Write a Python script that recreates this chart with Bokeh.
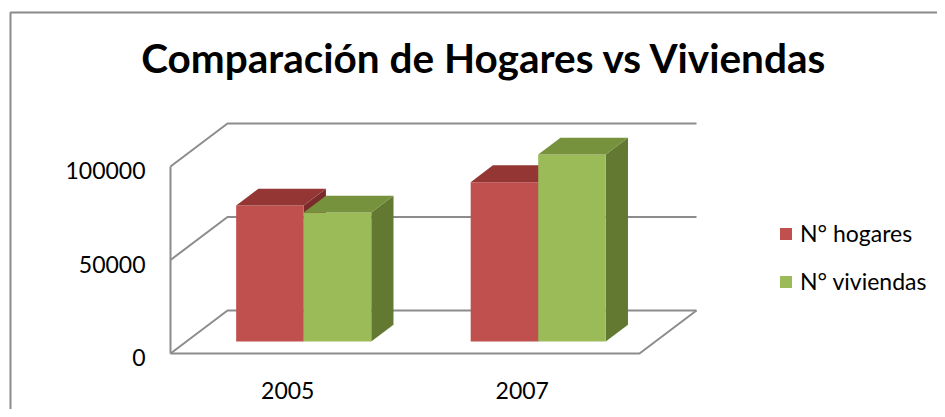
from bokeh.plotting import figure
from bokeh.models import (LinearAxis, FixedTicker, BasicTickFormatter, Legend,
                          LegendItem, Label, Range1d)
from bokeh.embed import file_html
from bokeh.resources import INLINE

# ---------------- data ----------------
categories = ["2005", "2007"]
series_names = ["N° hogares", "N° viviendas"]
hogares = [72700, 85200]
viviendas = [69000, 100000]
y_ticks = [0, 50000, 100000]

# ---------------- layout constants (pixels) ----------------
W, H = 937, 409
ORIGIN_X = 170          # canvas x of front-left corner (data x = 0)
ORIGIN_Y = 353          # canvas y (from top) of value 0 on front edge
PX_PER_CAT = 234.5
PX_PER_VAL = 187 / 100000
DEPTH_PX = (57, 43)     # 3D depth offset of walls
BAR_FRONT = 0.28        # bar front position as fraction of depth
BAR_DEPTH = 0.39        # bar depth as fraction of depth
BAR_W = 0.288           # bar width in category units
LABEL_SHIFT_PX = 4      # y tick labels sit slightly below their gridline

def px_x(cx):
    return (cx - ORIGIN_X) / PX_PER_CAT

def px_y(cy):
    return (ORIGIN_Y - cy) / PX_PER_VAL

dxd = DEPTH_PX[0] / PX_PER_CAT
dyd = DEPTH_PX[1] / PX_PER_VAL

p = figure(width=W, height=H, output_backend="svg", toolbar_location=None,
           x_range=Range1d(px_x(0), px_x(W)), y_range=Range1d(px_y(H), px_y(0)),
           x_axis_location=None, y_axis_location=None, min_border=0)
shift = LABEL_SHIFT_PX / PX_PER_VAL
p.extra_y_ranges = {"labels": Range1d(px_y(H) + shift, px_y(0) + shift)}
p.outline_line_color = None
p.xgrid.visible = False
p.ygrid.visible = False
p.background_fill_color = "white"
p.border_fill_color = "white"

GRAY = "#8c8c8c"
ncat = len(categories)
ymax = max(y_ticks)

# outer chart border
p.line([px_x(10), px_x(10), px_x(W + 20)], [px_y(H + 20), px_y(12), px_y(12)],
       line_color="#8a8a8a", line_width=2)

# walls
xs, ys = [], []
for t in y_ticks:
    xs.append([0, dxd, ncat + dxd]); ys.append([t, t + dyd, t + dyd])
xs.append([0, 0]); ys.append([0, ymax])
xs.append([0, ncat, ncat + dxd]); ys.append([0, 0, dyd])
p.multi_line(xs, ys, line_color=GRAY, line_width=2)

# bars
styles = [("#C0504D", "#943634", "#7A2C2A"), ("#9BBB59", "#76923C", "#637932")]
fronts = []
for s, vals in enumerate([hogares, viviendas]):
    front_c, top_c, side_c = styles[s]
    L, R, B, T = [], [], [], []
    txs, tys, sxs, sys_ = [], [], [], []
    for i, v in enumerate(vals):
        left = i + 0.5 - BAR_W + s * BAR_W + BAR_FRONT * dxd
        right = left + BAR_W
        bottom = BAR_FRONT * dyd
        top = v + BAR_FRONT * dyd
        ox, oy = BAR_DEPTH * dxd, BAR_DEPTH * dyd
        L.append(left); R.append(right); B.append(bottom); T.append(top)
        txs.append([left, right, right + ox, left + ox])
        tys.append([top, top, top + oy, top + oy])
        sxs.append([right, right, right + ox, right + ox])
        sys_.append([bottom, top, top + oy, bottom + oy])
    p.patches(sxs, sys_, fill_color=side_c, line_color=None)
    fr = p.quad(left=L, right=R, bottom=B, top=T, fill_color=front_c, line_color=None)
    p.patches(txs, tys, fill_color=top_c, line_color=None)
    fronts.append(fr)

# axes
FONT = "Lato"
yaxis = LinearAxis(ticker=FixedTicker(ticks=y_ticks), y_range_name="labels",
                   formatter=BasicTickFormatter(use_scientific=False),
                   fixed_location=0)
yaxis.axis_line_color = None
yaxis.major_tick_line_color = None
yaxis.minor_tick_line_color = None
yaxis.major_label_standoff = 19
yaxis.major_label_text_font = FONT
yaxis.major_label_text_font_size = "23px"
yaxis.major_label_text_color = "black"
p.add_layout(yaxis, "left")

cat_pos = [i + 0.5 for i in range(ncat)]
overrides = {}
for pos, c in zip(cat_pos, categories):
    overrides[pos] = c
xaxis = LinearAxis(ticker=FixedTicker(ticks=cat_pos), fixed_location=0,
                   major_label_overrides=overrides)
xaxis.axis_line_color = None
xaxis.major_tick_line_color = None
xaxis.minor_tick_line_color = None
xaxis.major_label_standoff = 22
xaxis.major_label_text_font = FONT
xaxis.major_label_text_font_size = "23px"
xaxis.major_label_text_color = "black"
p.add_layout(xaxis, "below")

# title
p.add_layout(Label(x=px_x(484), y=px_y(57), text="Comparación de Hogares vs Viviendas",
                   text_align="center", text_baseline="alphabetic", text_font=FONT,
                   text_font_style="bold", text_font_size="40.5px", text_color="black"))

# legend
legend = Legend(items=[LegendItem(label=series_names[k], renderers=[fronts[k]]) for k in range(2)],
                location=(778, 114), padding=0, margin=0, spacing=20,
                glyph_width=15, glyph_height=15, label_standoff=7,
                label_text_font=FONT, label_text_font_size="23px",
                label_text_color="black", border_line_color=None,
                background_fill_alpha=0)
p.add_layout(legend)

open("out.html", "w").write(file_html(p, INLINE))
